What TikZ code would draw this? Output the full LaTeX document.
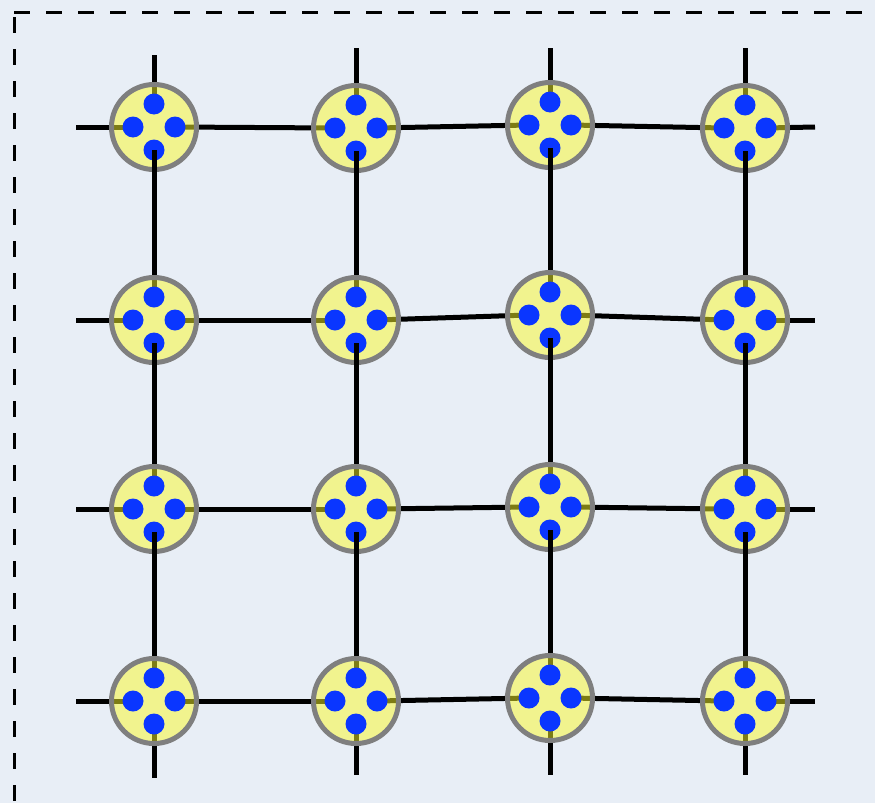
\documentclass[tikz,border=0pt]{standalone}
\usetikzlibrary{calc}
\definecolor{paper}{HTML}{E8EEF6}
\definecolor{padyellow}{HTML}{FAF828}
\definecolor{padring}{HTML}{7F7F7F}
\definecolor{pinblue}{HTML}{0A36FF}

\tikzset{
    wire/.style={line width=5pt, black},
    pad/.style={circle, draw=padring, line width=5pt, fill=padyellow,
        fill opacity=0.5, draw opacity=1, minimum size=85pt, inner sep=0pt},
    pin/.style={fill=pinblue},
    frame/.style={line width=3pt, dash pattern=on 16pt off 16pt}
}

\begin{document}
\begin{tikzpicture}[x=1pt, y=-1pt]
    \useasboundingbox (0,0) rectangle (875,803);
    \fill[paper] (0,0) rectangle (875,803);
    \draw[frame] (14,12) -- (875,12);
    \draw[frame] (14,17) -- (14,803);

    % pad centres and pin positions
    \foreach \r/\c/\x/\y in {1/1/154/127, 1/2/356/128, 1/3/550/125, 1/4/745/128,
        2/1/154/320, 2/2/356/320, 2/3/550/315, 2/4/745/320,
        3/1/154/509, 3/2/356/509, 3/3/550/507, 3/4/745/509,
        4/1/154/701, 4/2/356/701, 4/3/550/698, 4/4/745/701} {
        \coordinate (c-\r-\c) at (\x,\y);
        \coordinate (t-\r-\c) at (\x,\y-23);
        \coordinate (b-\r-\c) at (\x,\y+23);
        \coordinate (l-\r-\c) at (\x-21,\y);
        \coordinate (rt-\r-\c) at (\x+21,\y);
    }

    % free wire ends
    \foreach \r/\y in {1/127, 2/320, 3/509, 4/701} {
        \coordinate (w-\r) at (76,\y);
        \coordinate (e-\r) at (815,\y);
    }
    \foreach \c/\x/\ytop/\ybot in {1/154/55/778, 2/356/48/775, 3/550/48/775, 4/745/48/775} {
        \coordinate (n-\c) at (\x,\ytop);
        \coordinate (s-\c) at (\x,\ybot);
    }

    % wires under the pads
    \foreach \r in {1,...,4} {
        \draw[wire] (w-\r) -- (l-\r-1);
        \draw[wire] (rt-\r-4) -- (e-\r);
        \foreach \c [evaluate=\c as \nc using int(\c+1)] in {1,2,3}
            \draw[wire] (rt-\r-\c) -- (l-\r-\nc);
    }
    \foreach \c in {1,...,4} {
        \draw[wire] (n-\c) -- (t-1-\c);
        \draw[wire] (b-4-\c) -- (s-\c);
    }

    % pads, row by row
    \foreach \r [evaluate=\r as \nr using int(\r+1)] in {1,...,4} {
        \foreach \c in {1,...,4} {
            \node[pad] (p-\r-\c) at (c-\r-\c) {};
            \fill[pin] (t-\r-\c) circle (10.5pt) (b-\r-\c) circle (10.5pt)
                (l-\r-\c) circle (10.5pt) (rt-\r-\c) circle (10.5pt);
            \ifnum\r<4 \draw[wire] (b-\r-\c) -- (t-\nr-\c); \fi
        }
    }
\end{tikzpicture}
\end{document}
